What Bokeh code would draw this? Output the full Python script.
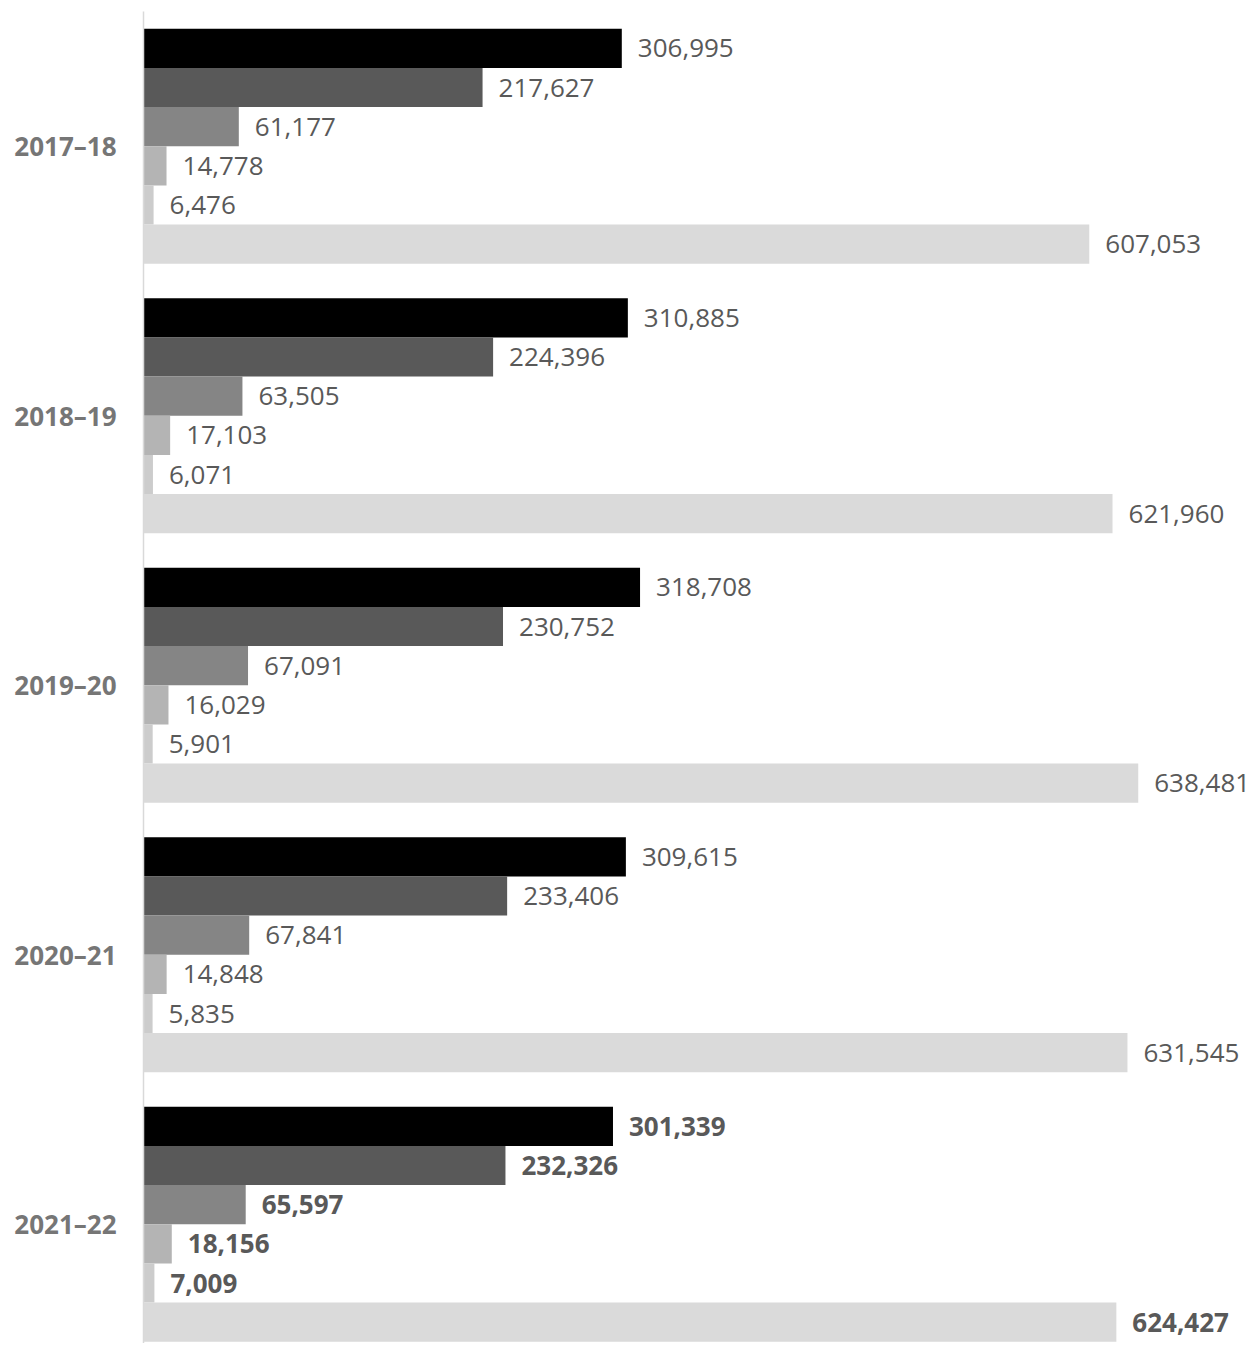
from bokeh.plotting import figure
from bokeh.models import ColumnDataSource, Range1d, FixedTicker
from bokeh.core.properties import value
from bokeh.embed import file_html
from bokeh.resources import INLINE

years = ["2017–18", "2018–19", "2019–20", "2020–21", "2021–22"]
series_names = ["Series 1", "Series 2", "Series 3", "Series 4", "Series 5", "Total"]
s1 = [306995, 310885, 318708, 309615, 301339]
s2 = [217627, 224396, 230752, 233406, 232326]
s3 = [61177, 63505, 67091, 67841, 65597]
s4 = [14778, 17103, 16029, 14848, 18156]
s5 = [6476, 6071, 5901, 5835, 7009]
total = [607053, 621960, 638481, 631545, 624427]
series_values = [s1, s2, s3, s4, s5, total]
colors = ["#000000", "#595959", "#858585", "#b4b4b4", "#cccccc", "#dadada"]

FONT = "Open Sans"
PX_PER_CAT = 269.5
BAR_H = 235.0 / 6 / PX_PER_CAT
PX_PER_UNIT = 0.001558

W, H = 1252, 1343
LEFT, TOP = 143, 11
p = figure(width=W, height=H, output_backend="svg", toolbar_location=None,
           x_range=Range1d(0, (W - LEFT) / PX_PER_UNIT),
           y_range=Range1d(start=-0.5 + (H - TOP) / PX_PER_CAT, end=-0.5),
           min_border_left=LEFT, min_border_right=0, min_border_top=TOP, min_border_bottom=0)
p.outline_line_color = None
p.xaxis.visible = False
p.xgrid.visible = False
p.ygrid.visible = False
p.background_fill_color = "white"
p.border_fill_color = "white"

n = len(series_values)
for j, vals in enumerate(series_values):
    ys = [i + (j - (n - 1) / 2) * BAR_H for i in range(len(years))]
    labels = [f"{v:,}" for v in vals]
    styles = ["bold" if i == len(years) - 1 else "normal" for i in range(len(years))]
    src = ColumnDataSource(dict(y=ys, v=vals, lab=labels, st=styles))
    p.hbar(y="y", right="v", left=0, height=BAR_H, source=src,
           fill_color=colors[j], line_color=None)
    p.text(x="v", y="y", text="lab", source=src, x_offset=16,
           text_align="left", text_baseline="middle", text_color="#595959",
           text_font=value(FONT), text_font_size="26px", text_font_style="st")

yaxis = p.yaxis[0]
yaxis.ticker = FixedTicker(ticks=list(range(len(years))))
yaxis.major_label_overrides = {i: y for i, y in enumerate(years)}
yaxis.major_tick_out = 0
yaxis.major_tick_in = 0
yaxis.minor_tick_out = 0
yaxis.minor_tick_in = 0
yaxis.major_label_standoff = 27
yaxis.major_label_text_font = FONT
yaxis.major_label_text_font_size = "26px"
yaxis.major_label_text_font_style = "bold"
yaxis.major_label_text_color = "#767676"
yaxis.axis_line_color = "#d9d9d9"
yaxis.axis_line_width = 1.5

open("out.html", "w").write(file_html(p, INLINE))
